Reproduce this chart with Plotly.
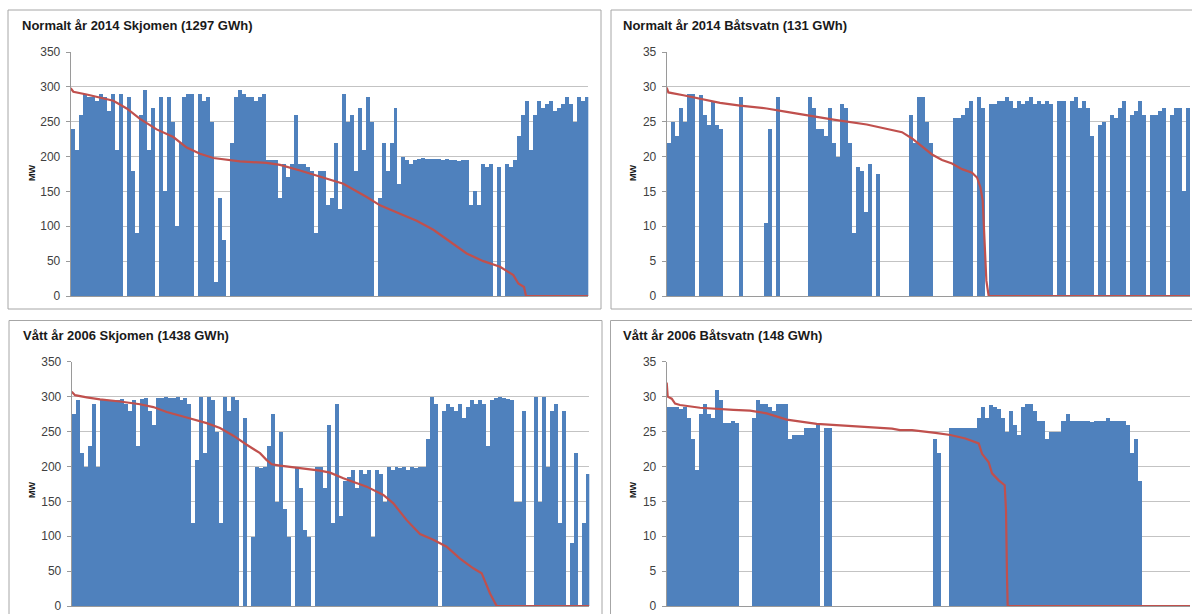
import plotly.graph_objects as go

W, H = 1192, 614
HOURS = 8760

# ---------------- data ----------------
tl_title = "Normalt år 2014 Skjomen (1297 GWh)"
tr_title = "Normalt år 2014 Båtsvatn (131 GWh)"
bl_title = "Vått år 2006 Skjomen (1438 GWh)"
br_title = "Vått år 2006 Båtsvatn (148 GWh)"
y_label = "MW"

skj_ticks = [0, 50, 100, 150, 200, 250, 300, 350]
bat_ticks = [0, 5, 10, 15, 20, 25, 30, 35]

# hourly production (MW), sampled along the year
tl_mw = [240, 210, 260, 290, 285, 285, 280, 290, 285, 265,
         290, 210, 290, 0, 285, 180, 90, 260, 295, 210,
         270, 0, 285, 150, 285, 250, 100, 220, 285, 290,
         290, 0, 290, 280, 285, 250, 20, 140, 80, 0,
         220, 285, 295, 290, 285, 285, 280, 285, 290, 195,
         195, 195, 140, 190, 170, 190, 260, 190, 190, 185,
         180, 90, 180, 180, 130, 140, 220, 125, 290, 250,
         260, 180, 270, 210, 285, 250, 0, 140, 220, 180,
         220, 270, 160, 200, 195, 190, 195, 197, 198, 197,
         196, 197, 196, 195, 196, 195, 195, 194, 195, 195,
         130, 150, 130, 190, 185, 190, 0, 185, 0, 190,
         185, 195, 230, 260, 280, 210, 260, 280, 270, 275,
         280, 265, 270, 275, 285, 275, 250, 285, 280, 285]

tr_mw = [22, 25, 23, 27, 25, 29, 29, 0, 28.8, 26,
         24.5, 28, 24.5, 24, 0, 0, 0, 0, 28.5, 0,
         0, 0, 0, 0, 10.5, 24, 0, 28.5, 0, 0,
         0, 0, 0, 0, 0, 28.5, 27, 24, 24, 23,
         27, 22, 20, 27.5, 27, 22, 9, 18.5, 18, 12,
         19, 0, 17.5, 0, 0, 0, 0, 0, 0, 0,
         26, 22, 28.5, 28.5, 25, 22, 0, 0, 0, 0,
         0, 25.5, 25.5, 26, 27, 28, 0, 28.5, 27, 0,
         27.5, 27.5, 28, 28, 28.5, 28, 27, 28, 27.5, 28,
         28.5, 27.5, 28, 27.5, 28, 27.5, 0, 28, 28, 0,
         28, 28.5, 27, 28, 27, 23, 0, 24.5, 25, 0,
         26, 25.5, 27, 28, 0, 26, 26.5, 28, 26, 0,
         26, 26, 26.5, 27, 0, 26, 27, 27, 15, 27]

bl_mw = [275, 295, 220, 200, 230, 290, 200, 297, 296, 295,
         296, 295, 297, 290, 280, 296, 230, 297, 298, 280,
         260, 298, 298, 300, 298, 298, 300, 295, 298, 290,
         120, 210, 300, 220, 300, 295, 250, 120, 300, 280,
         300, 295, 0, 270, 0, 100, 200, 198, 200, 230,
         275, 150, 250, 140, 100, 0, 200, 170, 110, 100,
         0, 200, 200, 170, 260, 120, 290, 130, 180, 185,
         195, 170, 195, 190, 195, 100, 195, 190, 150, 200,
         195, 200, 198, 200, 195, 200, 198, 200, 200, 240,
         300, 290, 0, 280, 290, 285, 280, 290, 270, 285,
         295, 290, 295, 290, 230, 295, 298, 300, 298, 297,
         295, 150, 150, 280, 0, 0, 300, 150, 300, 200,
         280, 290, 120, 280, 0, 90, 220, 0, 120, 190]

br_mw = [28.5, 28.5, 28.5, 28.3, 28.5, 27, 24, 19.5, 27.5, 29,
         27.5, 27, 31, 29.5, 26.3, 26.3, 26.5, 26.3, 0, 0,
         0, 27, 29.5, 29, 29, 28.5, 28, 29, 29, 29,
         24, 24.5, 24.5, 24.5, 25.5, 25.5, 25.5, 26, 0, 25.5,
         25.5, 0, 0, 0, 0, 0, 0, 0, 0, 0,
         0, 0, 0, 0, 0, 0, 0, 0, 0, 0,
         0, 0, 0, 0, 0, 0, 24, 22, 0, 0,
         25.5, 25.5, 25.5, 25.5, 25.5, 25.5, 25.5, 27, 28.5, 27,
         28.8, 28.5, 28.3, 27, 25, 28, 26, 24.5, 28.5, 29,
         29, 28, 26.5, 26.5, 24, 25, 25, 25, 26.5, 27.5,
         26.5, 26.5, 26.6, 26.5, 26.5, 26.4, 26.6, 26.5, 26.5, 27,
         26.5, 26.5, 26.5, 26.5, 26, 22, 24, 18, 0, 0,
         0, 0, 0, 0, 0, 0, 0, 0, 0, 0]

# duration curves (hours, MW)
tl_dur_h = [0, 45, 271, 496, 722, 948, 1173, 1455, 1737, 1963, 2189, 2414, 2640,
            2866, 3317, 3543, 3881, 4163, 4614, 5009, 5235, 5573, 5855, 6137,
            6476, 6702, 6984, 7266, 7491, 7576, 7672, 7706, 8760]
tl_dur_mw = [298, 293, 289, 285, 280, 269, 254, 239, 228, 213, 204, 198, 195,
             193, 191, 188, 180, 173, 161, 142, 130, 118, 108, 95,
             75, 61, 50, 42, 30, 18, 13, 0, 0]

tr_dur_h = [0, 28, 279, 558, 893, 1228, 1674, 2009, 2344, 2790, 3348, 3772, 3939,
            4107, 4274, 4442, 4609, 4776, 4944, 5111, 5195, 5251, 5290, 5318,
            5334, 5351, 5390, 8760]
tr_dur_mw = [29.9, 29.2, 28.8, 28.3, 27.7, 27.3, 26.9, 26.4, 25.9, 25.3, 24.6, 23.8, 23.5,
             22.6, 21.4, 20.3, 19.5, 19, 18.2, 17.7, 17, 15.6, 13.7, 8.9,
             5.6, 2.2, 0, 0]

bl_dur_h = [0, 56, 254, 479, 818, 1156, 1382, 1608, 1946, 2285, 2510, 2736, 2962,
            3187, 3300, 3385, 3526, 3864, 4090, 4202, 4372, 4597, 4992, 5274,
            5444, 5669, 5895, 6120, 6346, 6572, 6797, 6938, 7080, 7192, 8760]
bl_dur_mw = [307, 302, 299, 296, 293, 289, 285, 278, 270, 262, 255, 244, 231,
             219, 209, 203, 201, 198, 195, 194, 191, 183, 171, 159,
             147, 123, 103, 95, 85, 68, 54, 47, 18, 0, 0]

br_dur_h = [0, 17, 84, 140, 223, 558, 1116, 1395, 1674, 2009, 2511, 3069, 3348,
            3772, 3906, 4107, 4497, 4749, 5000, 5223, 5279, 5390, 5446, 5558,
            5658, 5680, 5697, 5708, 8760]
br_dur_mw = [32, 30, 29.7, 29, 28.8, 28.4, 28.1, 28, 27.6, 26.7, 26.1, 25.8, 25.7,
             25.4, 25.2, 25.2, 24.8, 24.5, 24, 23.3, 21.8, 20.6, 19, 18,
             17.3, 13.7, 4.1, 0, 0]

# ---------------- layout helpers ----------------
BLUE = "#4f81bd"
RED = "#c0504d"
GRID = "#c3c3c3"
AXIS = "#9a9a9a"
FRAME = "#a6a6a6"
FONT = "Liberation Sans"


def px_x(p):
    return p / W


def px_y(p):
    return 1 - p / H


panels = [
    ("", tl_mw, tl_dur_h, tl_dur_mw, skj_ticks, tl_title, (70.7, 588.3, 52, 296), (8, 601, 10, 309), (20, 25), (32, 173)),
    ("2", tr_mw, tr_dur_h, tr_dur_mw, bat_ticks, tr_title, (666.7, 1190, 52, 296), (611, 1204, 10, 309), (621, 25), (633, 173)),
    ("3", bl_mw, bl_dur_h, bl_dur_mw, skj_ticks, bl_title, (71.7, 589.3, 361.7, 606), (9, 602, 320.5, 630), (20.7, 335), (32, 490)),
    ("4", br_mw, br_dur_h, br_dur_mw, bat_ticks, br_title, (666.7, 1190, 361.7, 606), (610.5, 1204, 320.5, 630), (620.7, 335), (633, 490)),
]

fig = go.Figure()
layout = dict(
    width=W, height=H, autosize=False,
    margin=dict(l=0, r=0, t=0, b=0, pad=0),
    paper_bgcolor="white", plot_bgcolor="white",
    showlegend=False, bargap=0,
    font=dict(family=FONT, color="#404040"),
)
shapes = []
annotations = []

for suf, vals, dh, dmw, ticks, title, box, frame, tpos, mpos in panels:
    xa = "x" + suf
    ya = "y" + suf
    n = len(vals)
    bw = HOURS / n
    xs = [(i + 0.5) * bw for i in range(n)]
    fig.add_trace(go.Bar(x=xs, y=vals, width=bw, xaxis=xa, yaxis=ya,
                         marker=dict(color=BLUE, line=dict(width=0)),
                         hoverinfo="skip"))
    fig.add_trace(go.Scatter(x=dh, y=dmw, mode="lines", xaxis=xa, yaxis=ya,
                             line=dict(color=RED, width=2.2), hoverinfo="skip"))
    x0, x1, yt, yb = box
    layout["xaxis" + suf] = dict(
        domain=[px_x(x0), px_x(x1)], anchor=ya, range=[0, HOURS],
        showticklabels=False, showgrid=False, zeroline=False, automargin=False,
        showline=True, linecolor=AXIS, linewidth=1, ticks="", fixedrange=True)
    layout["yaxis" + suf] = dict(
        domain=[px_y(yb), px_y(yt)], anchor=xa, range=[0, ticks[-1]],
        tickvals=ticks, ticktext=[str(t) for t in ticks], automargin=False,
        showgrid=True, gridcolor=GRID, gridwidth=1, zeroline=False,
        showline=True, linecolor=AXIS, linewidth=1,
        ticks="outside", ticklen=4, tickcolor=AXIS, ticklabelstandoff=3,
        tickfont=dict(family=FONT, size=12, color="#404040"), fixedrange=True)
    fx0, fx1, fy0, fy1 = frame
    shapes.append(dict(type="rect", xref="paper", yref="paper",
                       x0=px_x(fx0), x1=px_x(fx1), y0=px_y(fy1), y1=px_y(fy0),
                       line=dict(color=FRAME, width=1), fillcolor="rgba(0,0,0,0)",
                       layer="below"))
    annotations.append(dict(text="<b>" + title + "</b>", xref="paper", yref="paper",
                            x=px_x(tpos[0]), y=px_y(tpos[1]), xanchor="left", yanchor="middle",
                            showarrow=False, font=dict(family=FONT, size=13, color="#1a1a1a")))
    annotations.append(dict(text="<b>" + y_label + "</b>", xref="paper", yref="paper",
                            x=px_x(mpos[0]), y=px_y(mpos[1]), xanchor="center", yanchor="middle",
                            textangle=-90, showarrow=False,
                            font=dict(family=FONT, size=9, color="#1a1a1a")))

layout["shapes"] = shapes
layout["annotations"] = annotations
fig.update_layout(**layout)

fig.write_html(
    "out.html",
    config={"displayModeBar": False, "responsive": False},
    post_script="document.body.style.margin='0';document.body.style.padding='0';"
                "document.body.style.overflow='hidden';"
                "document.documentElement.style.overflow='hidden';",
)
